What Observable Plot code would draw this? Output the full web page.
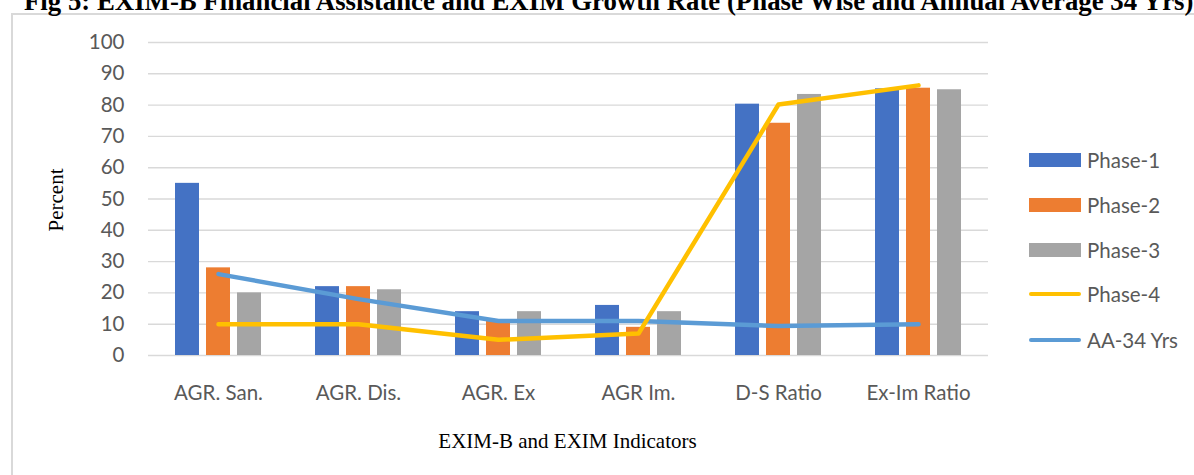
<!DOCTYPE html>
<html>
<head>
<meta charset="utf-8">
<script src="https://cdn.jsdelivr.net/npm/d3@7"></script>
<script src="https://cdn.jsdelivr.net/npm/@observablehq/plot@0.6"></script>
<style>
  html, body { margin: 0; padding: 0; background: #fff; }
  #wrap { position: relative; width: 1194px; height: 475px; overflow: hidden; background: #fff; }
  #box { position: absolute; left: 11px; top: 13px; width: 1400px; height: 700px; border: 2px solid #D9D9D9; box-sizing: border-box; }
  #title { position: absolute; left: 24px; top: -12.5px; font: bold 26.8px "Liberation Serif", "Times New Roman", serif; line-height: 1; white-space: nowrap; color: #000; }
  #chart { position: absolute; left: 0; top: 0; }
  #xtitle { position: absolute; left: 567.5px; top: 431.4px; transform: translateX(-50%); font: 21px "Liberation Serif", "Times New Roman", serif; line-height: 1; white-space: nowrap; color: #000; }
  #ytitle { position: absolute; left: 56px; top: 200px; transform: translate(-50%, -50%) rotate(-90deg); font: 21px "Liberation Serif", "Times New Roman", serif; line-height: 1; white-space: nowrap; color: #000; }
  .leg { position: absolute; left: 1029px; height: 24px; display: flex; align-items: center; font: 20.5px Lato, "Open Sans", sans-serif; color: #595959; white-space: nowrap; }
  .sw { width: 52px; height: 14px; margin-right: 6px; }
  .ln { width: 52px; height: 4.5px; border-radius: 3px; margin-right: 6px; }
</style>
</head>
<body>
<div id="wrap">
  <div id="box"></div>
  <div id="title">Fig 5: EXIM-B Financial Assistance and EXIM Growth Rate (Phase Wise and Annual Average 34 Yrs)</div>
  <div id="chart"></div>
  <div id="ytitle">Percent</div>
  <div id="xtitle">EXIM-B and EXIM Indicators</div>
  <div id="legend"></div>
</div>
<script>
const categories = ["AGR. San.", "AGR. Dis.", "AGR. Ex", "AGR Im.", "D-S Ratio", "Ex-Im Ratio"];
const phase1 = [55, 22, 14, 16, 80.3, 85.2];
const phase2 = [28, 22, 11, 9, 74.2, 85.4];
const phase3 = [20, 21, 14, 14, 83.4, 84.9];
const phase4 = [10, 10, 5, 7, 80.2, 86.3];
const aa34 = [26, 18, 11, 11, 9.4, 10];
const yTicks = [0, 10, 20, 30, 40, 50, 60, 70, 80, 90, 100];
const seriesNames = ["Phase-1", "Phase-2", "Phase-3", "Phase-4", "AA-34 Yrs"];

const colors = {"Phase-1": "#4472C4", "Phase-2": "#ED7D31", "Phase-3": "#A5A5A5", "Phase-4": "#FFC000", "AA-34 Yrs": "#5B9BD5"};

const rows = categories.map((c, i) => ({cat: c, p1: phase1[i], p2: phase2[i], p3: phase3[i], p4: phase4[i], aa: aa34[i]}));

const barOpts = {insetLeft: 58, insetRight: 58};
const tickFont = "Lato, 'Open Sans', sans-serif";

const chart = Plot.plot({
  width: 1194,
  height: 475,
  marginLeft: 148,
  marginRight: 206,
  marginTop: 42,
  marginBottom: 120,
  style: {background: "transparent", fontFamily: tickFont, fontSize: "20.5px", color: "#595959", overflow: "visible"},
  x: {type: "band", domain: categories, padding: 0, label: null},
  y: {domain: [0, 100], label: null},
  marks: [
    Plot.gridY(yTicks, {stroke: "#D9D9D9", strokeOpacity: 1, strokeWidth: 1.4}),
    Plot.barY(rows, {x: "cat", y: "p1", fill: colors["Phase-1"], dx: -31, ...barOpts}),
    Plot.barY(rows, {x: "cat", y: "p2", fill: colors["Phase-2"], dx: 0, ...barOpts}),
    Plot.barY(rows, {x: "cat", y: "p3", fill: colors["Phase-3"], dx: 31, ...barOpts}),
    Plot.lineY(rows, {x: "cat", y: "aa", stroke: colors["AA-34 Yrs"], strokeWidth: 4.5, strokeLinecap: "round", strokeLinejoin: "round"}),
    Plot.lineY(rows, {x: "cat", y: "p4", stroke: colors["Phase-4"], strokeWidth: 4.5, strokeLinecap: "round", strokeLinejoin: "round"}),
    Plot.axisY(yTicks, {tickSize: 0, tickPadding: 24, fill: "#595959", fontSize: 20.5, label: null}),
    Plot.axisX({tickSize: 0, tickPadding: 30, fill: "#595959", fontSize: 20.5, label: null})
  ]
});
document.getElementById("chart").appendChild(chart);

const legendTops = [160, 205, 250, 294, 340];
const legend = document.getElementById("legend");
seriesNames.forEach((name, i) => {
  const row = document.createElement("div");
  row.className = "leg";
  row.style.top = (legendTops[i] - 12) + "px";
  const sw = document.createElement("div");
  sw.className = i < 3 ? "sw" : "ln";
  sw.style.background = colors[name];
  const t = document.createElement("span");
  t.textContent = name;
  row.appendChild(sw);
  row.appendChild(t);
  legend.appendChild(row);
});
</script>
</body>
</html>
